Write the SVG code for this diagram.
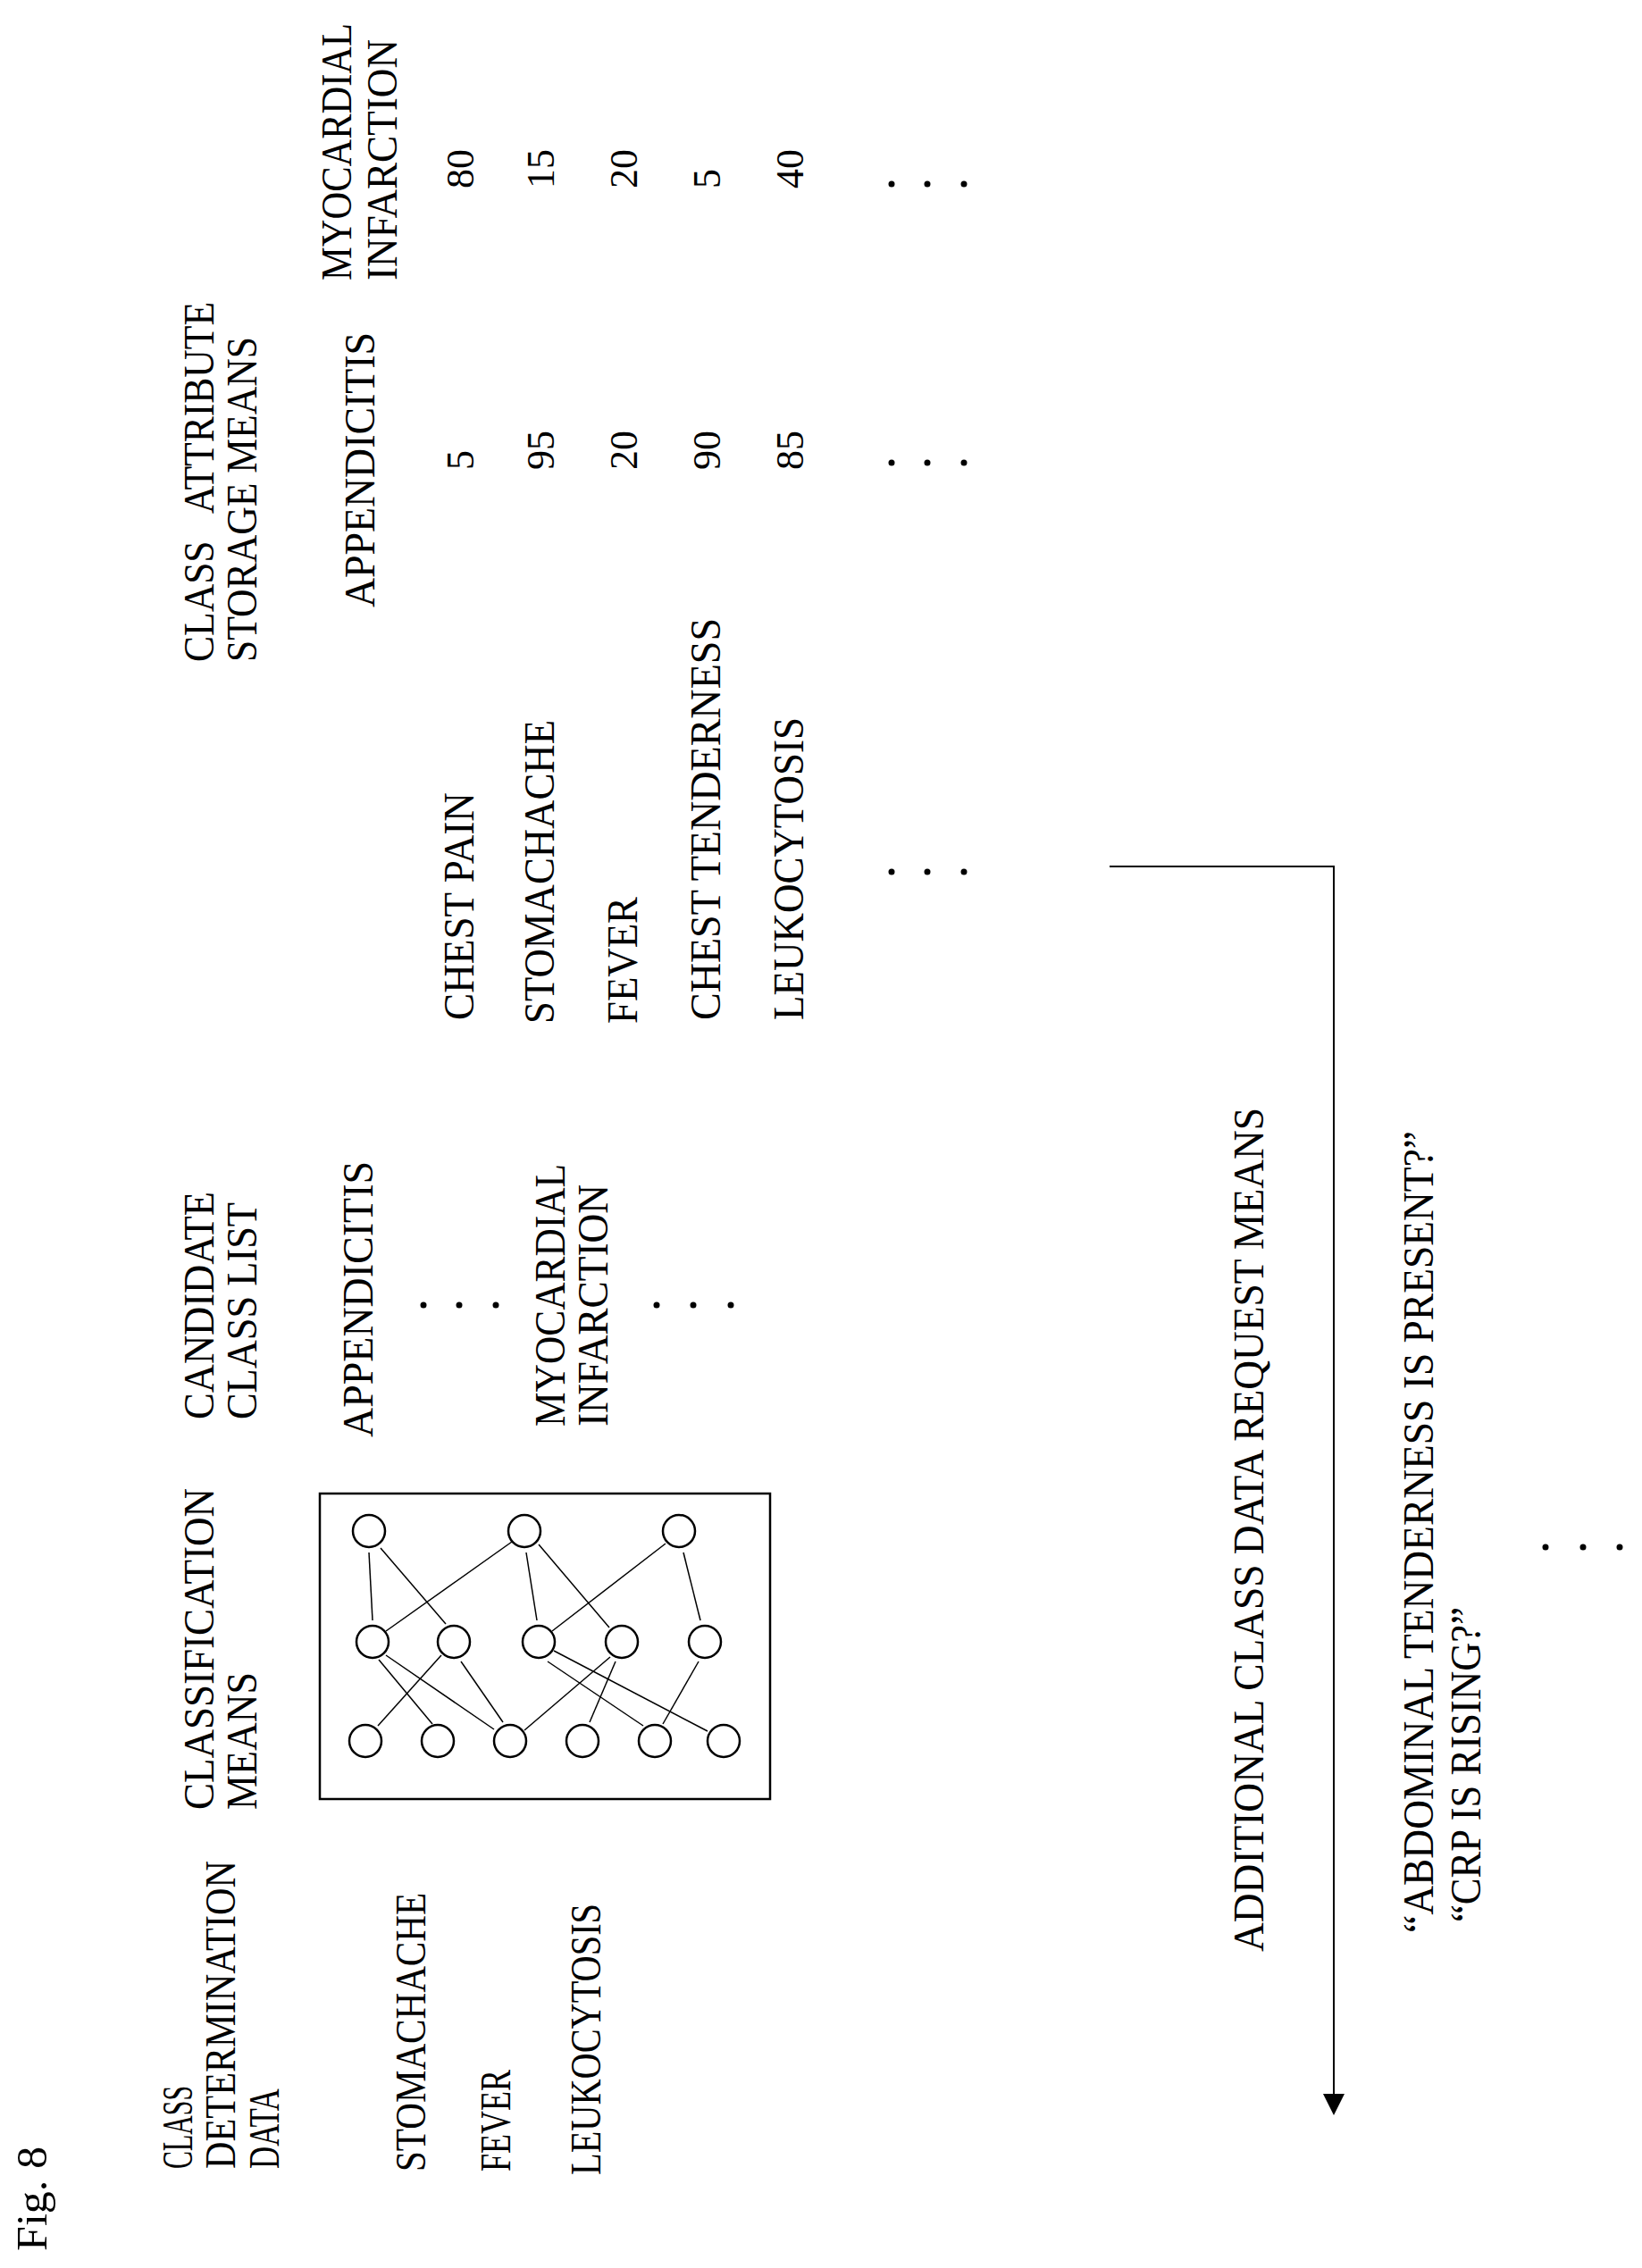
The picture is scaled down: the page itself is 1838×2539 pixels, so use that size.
<svg xmlns="http://www.w3.org/2000/svg" width="1838" height="2539" viewBox="0 0 1838 2539">
<style>
text{font-family:"Liberation Serif","Times New Roman",serif;font-size:48px;fill:#000}
.n{font-size:44px}
.e{stroke:#000;stroke-width:1.5;fill:none}
.c{stroke:#000;stroke-width:2.5;fill:#fff}
.d{fill:#000}
</style>
<defs>
<marker id="ah" markerWidth="24" markerHeight="24" refX="22" refY="12" orient="auto" markerUnits="userSpaceOnUse" viewBox="0 0 24 24"><path d="M0,0 L24,12 L0,24 z" fill="#000"/></marker>
</defs>
<rect width="1838" height="2539" fill="#fff"/>
<g id="labels">
<text transform="translate(52,2520) rotate(-90)" textLength="117" lengthAdjust="spacingAndGlyphs">Fig. 8</text>
<text transform="translate(215,2428) rotate(-90)" textLength="93" lengthAdjust="spacingAndGlyphs">CLASS</text>
<text transform="translate(263,2428) rotate(-90)" textLength="345" lengthAdjust="spacingAndGlyphs">DETERMINATION</text>
<text transform="translate(312,2428) rotate(-90)" textLength="90" lengthAdjust="spacingAndGlyphs">DATA</text>
<text transform="translate(476,2431) rotate(-90)" textLength="312" lengthAdjust="spacingAndGlyphs">STOMACHACHE</text>
<text transform="translate(571,2431) rotate(-90)" textLength="114" lengthAdjust="spacingAndGlyphs">FEVER</text>
<text transform="translate(672,2435) rotate(-90)" textLength="304" lengthAdjust="spacingAndGlyphs">LEUKOCYTOSIS</text>
<text transform="translate(239,2026) rotate(-90)" textLength="360" lengthAdjust="spacingAndGlyphs">CLASSIFICATION</text>
<text transform="translate(287,2026) rotate(-90)" textLength="154" lengthAdjust="spacingAndGlyphs">MEANS</text>
<text transform="translate(239,1589) rotate(-90)" textLength="255" lengthAdjust="spacingAndGlyphs">CANDIDATE</text>
<text transform="translate(287,1589) rotate(-90)" textLength="243" lengthAdjust="spacingAndGlyphs">CLASS LIST</text>
<text transform="translate(417,1609) rotate(-90)" textLength="309" lengthAdjust="spacingAndGlyphs">APPENDICITIS</text>
<text transform="translate(632,1597) rotate(-90)" textLength="294" lengthAdjust="spacingAndGlyphs">MYOCARDIAL</text>
<text transform="translate(680,1597) rotate(-90)" textLength="271" lengthAdjust="spacingAndGlyphs">INFARCTION</text>
<text transform="translate(239,741) rotate(-90)" textLength="403" lengthAdjust="spacingAndGlyphs" xml:space="preserve">CLASS   ATTRIBUTE</text>
<text transform="translate(287,741) rotate(-90)" textLength="364" lengthAdjust="spacingAndGlyphs">STORAGE MEANS</text>
<text transform="translate(419,680) rotate(-90)" textLength="308" lengthAdjust="spacingAndGlyphs">APPENDICITIS</text>
<text transform="translate(393,314) rotate(-90)" textLength="288" lengthAdjust="spacingAndGlyphs">MYOCARDIAL</text>
<text transform="translate(444,314) rotate(-90)" textLength="270" lengthAdjust="spacingAndGlyphs">INFARCTION</text>
<text transform="translate(530,1142) rotate(-90)" textLength="255" lengthAdjust="spacingAndGlyphs">CHEST PAIN</text>
<text transform="translate(620,1146) rotate(-90)" textLength="340" lengthAdjust="spacingAndGlyphs">STOMACHACHE</text>
<text transform="translate(713,1146) rotate(-90)" textLength="142" lengthAdjust="spacingAndGlyphs">FEVER</text>
<text transform="translate(806,1142) rotate(-90)" textLength="450" lengthAdjust="spacingAndGlyphs">CHEST TENDERNESS</text>
<text transform="translate(899,1142) rotate(-90)" textLength="339" lengthAdjust="spacingAndGlyphs">LEUKOCYTOSIS</text>
<text class="n" transform="translate(530,526) rotate(-90)">5</text>
<text class="n" transform="translate(620,526) rotate(-90)">95</text>
<text class="n" transform="translate(713,526) rotate(-90)">20</text>
<text class="n" transform="translate(806,526) rotate(-90)">90</text>
<text class="n" transform="translate(899,526) rotate(-90)">85</text>
<text class="n" transform="translate(530,211) rotate(-90)">80</text>
<text class="n" transform="translate(620,211) rotate(-90)">15</text>
<text class="n" transform="translate(713,211) rotate(-90)">20</text>
<text class="n" transform="translate(806,211) rotate(-90)">5</text>
<text class="n" transform="translate(899,211) rotate(-90)">40</text>
<text transform="translate(1414,2185) rotate(-90)" textLength="945" lengthAdjust="spacingAndGlyphs">ADDITIONAL CLASS DATA REQUEST MEANS</text>
<text transform="translate(1604,2164) rotate(-90)" textLength="898" lengthAdjust="spacingAndGlyphs">“ABDOMINAL TENDERNESS IS PRESENT?”</text>
<text transform="translate(1657,2152) rotate(-90)" textLength="353" lengthAdjust="spacingAndGlyphs">“CRP IS RISING?”</text>
</g>
<g id="dots" class="d">
<circle cx="474" cy="1461" r="3.5"/><circle cx="514" cy="1461" r="3.5"/><circle cx="555" cy="1461" r="3.5"/>
<circle cx="735" cy="1461" r="3.5"/><circle cx="776" cy="1461" r="3.5"/><circle cx="818" cy="1461" r="3.5"/>
<circle cx="998" cy="976" r="3.5"/><circle cx="1038" cy="976" r="3.5"/><circle cx="1079" cy="976" r="3.5"/>
<circle cx="998" cy="518" r="3.5"/><circle cx="1038" cy="518" r="3.5"/><circle cx="1079" cy="518" r="3.5"/>
<circle cx="998" cy="206" r="3.5"/><circle cx="1038" cy="206" r="3.5"/><circle cx="1079" cy="206" r="3.5"/>
<circle cx="1730" cy="1732" r="3.5"/><circle cx="1772" cy="1732" r="3.5"/><circle cx="1813" cy="1732" r="3.5"/>
</g>
<g id="classifier">
<rect x="358" y="1672" width="504" height="342" fill="none" stroke="#000" stroke-width="2.5"/>
<g class="e">
<line x1="413" y1="1738" x2="417" y2="1814"/>
<line x1="426" y1="1733" x2="499" y2="1818"/>
<line x1="573" y1="1726" x2="432" y2="1826"/>
<line x1="589" y1="1738" x2="601" y2="1814"/>
<line x1="603" y1="1729" x2="682" y2="1822"/>
<line x1="745" y1="1728" x2="618" y2="1826"/>
<line x1="765" y1="1738" x2="784" y2="1814"/>
<line x1="424" y1="1858" x2="484" y2="1930"/>
<line x1="432" y1="1853" x2="553" y2="1936"/>
<line x1="494" y1="1853" x2="423" y2="1932"/>
<line x1="516" y1="1860" x2="563" y2="1928"/>
<line x1="613" y1="1860" x2="720" y2="1932"/>
<line x1="620" y1="1848" x2="792" y2="1938"/>
<line x1="683" y1="1855" x2="587" y2="1937"/>
<line x1="689" y1="1860" x2="660" y2="1928"/>
<line x1="782" y1="1860" x2="742" y2="1930"/>
</g>
<g class="c">
<circle cx="413" cy="1714" r="18"/><circle cx="587" cy="1714" r="18"/><circle cx="760" cy="1714" r="18"/>
<circle cx="417" cy="1838" r="18"/><circle cx="508" cy="1838" r="18"/><circle cx="603" cy="1838" r="18"/><circle cx="696" cy="1838" r="18"/><circle cx="789" cy="1838" r="18"/>
<circle cx="409" cy="1949" r="18"/><circle cx="490" cy="1949" r="18"/><circle cx="571" cy="1949" r="18"/><circle cx="652" cy="1949" r="18"/><circle cx="733" cy="1949" r="18"/><circle cx="810" cy="1949" r="18"/>
</g>
</g>
<g id="connectors">
<path d="M1242,970 H1493 V2366" fill="none" stroke="#000" stroke-width="2" marker-end="url(#ah)"/>
</g>
</svg>
